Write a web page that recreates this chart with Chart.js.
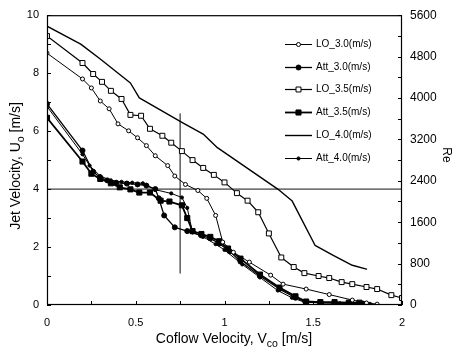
<!DOCTYPE html>
<html><head><meta charset="utf-8">
<script src="https://cdn.jsdelivr.net/npm/chart.js@4.4.1/dist/chart.umd.min.js"></script>
<style>html,body{margin:0;padding:0;background:#fff}canvas{display:block}</style>
</head><body>
<canvas id="c" width="452" height="349"></canvas>
<script>
// ---- data ----
const lo30X = [0, 0.20, 0.25, 0.30, 0.35, 0.40, 0.46, 0.51, 0.56, 0.61, 0.68, 0.72, 0.78, 0.85, 0.90, 0.95, 0.99, 1.05, 1.14, 1.26, 1.33, 1.46, 1.59, 1.72, 1.80, 1.86];
const lo30Y = [8.69, 7.80, 7.49, 7.04, 6.77, 6.25, 6.01, 5.77, 5.50, 5.15, 4.81, 4.45, 4.16, 3.95, 3.68, 3.09, 2.17, 1.82, 1.48, 1.03, 0.72, 0.55, 0.36, 0.17, 0.07, 0.03];

const att30X = [0, 0.20, 0.26, 0.30, 0.34, 0.39, 0.45, 0.51, 0.56, 0.61, 0.63, 0.66, 0.72, 0.79, 0.87, 0.92, 0.97, 1.03, 1.09, 1.20, 1.31, 1.40, 1.46, 1.54, 1.62, 1.70, 1.78];
const att30Y = [6.94, 5.33, 4.60, 4.40, 4.30, 4.22, 4.19, 4.16, 4.12, 4.00, 3.68, 3.09, 2.68, 2.55, 2.40, 2.30, 2.12, 1.85, 1.50, 1.00, 0.55, 0.25, 0.10, 0.08, 0.07, 0.06, 0.05];

const lo35X = [0, 0.20, 0.26, 0.31, 0.36, 0.42, 0.47, 0.53, 0.58, 0.65, 0.70, 0.76, 0.82, 0.88, 0.94, 1.00, 1.07, 1.13, 1.19, 1.25, 1.32, 1.39, 1.45, 1.53, 1.59, 1.66, 1.72, 1.80, 1.86, 1.94, 2.00];
const lo35Y = [9.28, 8.35, 7.97, 7.70, 7.39, 7.11, 6.56, 6.53, 6.08, 5.84, 5.60, 5.31, 5.00, 4.73, 4.49, 4.23, 3.86, 3.60, 3.20, 2.47, 1.64, 1.31, 1.10, 1.00, 0.93, 0.79, 0.72, 0.62, 0.55, 0.34, 0.24];

const att35X = [0, 0.20, 0.25, 0.30, 0.36, 0.41, 0.47, 0.52, 0.58, 0.64, 0.69, 0.76, 0.79, 0.82, 0.87, 0.92, 0.97, 1.02, 1.09, 1.20, 1.31, 1.40, 1.46, 1.54, 1.62, 1.70, 1.76];
const att35Y = [6.46, 4.95, 4.53, 4.35, 4.20, 4.06, 3.99, 3.88, 3.88, 3.60, 3.57, 3.44, 3.00, 2.55, 2.45, 2.35, 2.20, 1.95, 1.60, 1.05, 0.60, 0.30, 0.12, 0.10, 0.10, 0.08, 0.08];

const lo40X = [0, 0.19, 0.30, 0.47, 0.52, 0.76, 0.88, 0.96, 1.30, 1.38, 1.51, 1.61, 1.72, 1.80];
const lo40Y = [9.62, 9.00, 8.49, 7.66, 7.15, 6.30, 5.90, 5.43, 4.00, 3.60, 2.06, 1.72, 1.37, 1.24];

const att40X = [0, 0.20, 0.24, 0.30, 0.36, 0.42, 0.48, 0.54, 0.61, 0.70, 0.76, 0.79, 0.82, 0.88, 0.95, 1.00, 1.10, 1.20, 1.30, 1.38, 1.45, 1.55, 1.65, 1.75, 1.82];
const att40Y = [6.85, 5.20, 4.81, 4.45, 4.30, 4.25, 4.22, 4.20, 3.98, 3.85, 3.71, 3.35, 2.50, 2.35, 2.10, 1.90, 1.40, 0.95, 0.50, 0.25, 0.10, 0.07, 0.06, 0.05, 0.04];

const refLineX = [0, 2];      // horizontal reference line at U = 4
const refLineY = [4, 4];
const cursorX = [0.75, 0.75]; // vertical marker line
const cursorY = [1.1, 6.6];

const seriesLabels = ['LO_3.0(m/s)', 'Att_3.0(m/s)', 'LO_3.5(m/s)', 'Att_3.5(m/s)', 'LO_4.0(m/s)', 'Att_4.0(m/s)'];
const xTickLabels = ['0', '0.5', '1', '1.5', '2'];

function pts(xs, ys) { return xs.map((x, i) => ({ x: x, y: ys[i] })); }

const FONT = '"Liberation Sans", Arial, sans-serif';

const styles = [
  { pointStyle: 'circle', pointRadius: 2, pointBackgroundColor: '#fff', pointBorderWidth: 1, borderWidth: 1 },
  { pointStyle: 'circle', pointRadius: 2.5, pointBackgroundColor: '#000', pointBorderWidth: 1, borderWidth: 1.3 },
  { pointStyle: 'rect', pointRadius: 3.5, pointBackgroundColor: '#fff', pointBorderWidth: 1, borderWidth: 1.2 },
  { pointStyle: 'rect', pointRadius: 3.6, pointBackgroundColor: '#000', pointBorderWidth: 1, borderWidth: 1.8 },
  { pointStyle: 'circle', pointRadius: 0, pointBackgroundColor: '#000', pointBorderWidth: 0, borderWidth: 1.4 },
  { pointStyle: 'circle', pointRadius: 1.6, pointBackgroundColor: '#000', pointBorderWidth: 1, borderWidth: 1 }
];
const seriesData = [pts(lo30X, lo30Y), pts(att30X, att30Y), pts(lo35X, lo35Y), pts(att35X, att35Y), pts(lo40X, lo40Y), pts(att40X, att40Y)];

const datasets = seriesData.map((d, i) => Object.assign({
  label: seriesLabels[i], data: d, borderColor: '#000', pointBorderColor: '#000',
  showLine: true, fill: false, tension: 0, yAxisID: 'y', legendRow: i
}, styles[i]));

datasets.push({ label: 'ref', data: pts(refLineX, refLineY), borderColor: '#111', borderWidth: 1, pointRadius: 0, showLine: true, yAxisID: 'y' });
datasets.push({ label: 'cursor', data: pts(cursorX, cursorY), borderColor: '#333', borderWidth: 1.2, pointRadius: 0, showLine: true, yAxisID: 'y' });

function drawRich(ctx, parts, size) {
  let w = 0;
  parts.forEach(p => { ctx.font = (p.sub ? size * 0.75 : size) + 'px ' + FONT; p.w = ctx.measureText(p.t).width; w += p.w; });
  let x = -w / 2;
  parts.forEach(p => {
    ctx.font = (p.sub ? size * 0.75 : size) + 'px ' + FONT;
    ctx.fillText(p.t, x, p.sub ? size * 0.3 : 0);
    x += p.w;
  });
}

const decor = {
  id: 'decor',
  afterDraw(chart) {
    const ctx = chart.ctx, a = chart.chartArea;
    const sx = chart.scales.x, sy = chart.scales.y, sy2 = chart.scales.y2;
    ctx.save();
    ctx.strokeStyle = '#000'; ctx.fillStyle = '#000';
    ctx.lineWidth = 1.2;
    ctx.strokeRect(a.left + 0.5, a.top + 0.5, a.right - a.left - 1, a.bottom - a.top - 1);
    ctx.lineWidth = 1;
    ctx.beginPath();
    sx.ticks.forEach(t => { const p = Math.round(sx.getPixelForValue(t.value)) + 0.5; ctx.moveTo(p, a.bottom); ctx.lineTo(p, a.bottom - 4); });
    sy.ticks.forEach(t => { const p = Math.round(sy.getPixelForValue(t.value)) + 0.5; ctx.moveTo(a.left, p); ctx.lineTo(a.left + 4, p); });
    sy2.ticks.forEach(t => { const p = Math.round(sy2.getPixelForValue(t.value)) + 0.5; ctx.moveTo(a.right, p); ctx.lineTo(a.right - 4, p); });
    ctx.stroke();
    ctx.textBaseline = 'alphabetic'; ctx.textAlign = 'left';
    ctx.save(); ctx.translate(234, 343);
    drawRich(ctx, [{ t: 'Coflow Velocity, V' }, { t: 'co', sub: true }, { t: ' [m/s]' }], 14);
    ctx.restore();
    ctx.save(); ctx.translate(20, 166); ctx.rotate(-Math.PI / 2);
    drawRich(ctx, [{ t: 'Jet Velocity, U' }, { t: 'o', sub: true }, { t: ' [m/s]' }], 14);
    ctx.restore();
    ctx.save(); ctx.translate(443, 155); ctx.rotate(Math.PI / 2);
    drawRich(ctx, [{ t: 'Re' }], 12);
    ctx.restore();
    chart.data.datasets.forEach(ds => {
      if (ds.legendRow === undefined) return;
      const y = Math.round(44 + ds.legendRow * 22.7) + 0.5;
      ctx.strokeStyle = '#000'; ctx.lineWidth = ds.borderWidth;
      ctx.beginPath(); ctx.moveTo(285, y); ctx.lineTo(312, y); ctx.stroke();
      if (ds.pointRadius > 0) {
        ctx.fillStyle = ds.pointBackgroundColor; ctx.lineWidth = ds.pointBorderWidth;
        Chart.helpers.drawPoint(ctx, { pointStyle: ds.pointStyle, radius: ds.pointRadius, rotation: 0, borderWidth: ds.pointBorderWidth }, 298.5, y);
      }
      ctx.fillStyle = '#000'; ctx.font = '10px ' + FONT; ctx.textBaseline = 'middle'; ctx.textAlign = 'left';
      ctx.fillText(ds.label, 316, y);
    });
    ctx.restore();
  }
};

new Chart(document.getElementById('c'), {
  type: 'scatter',
  data: { datasets: datasets },
  plugins: [decor],
  options: {
    responsive: false, animation: false, devicePixelRatio: 1,
    layout: { padding: { top: 14, left: 0, right: 0, bottom: 0 } },
    plugins: { legend: { display: false }, tooltip: { enabled: false } },
    elements: { line: { borderCapStyle: 'round', borderJoinStyle: 'round' } },
    scales: {
      x: {
        type: 'linear', min: 0, max: 2,
        afterFit(s) { s.height = 44; },
        border: { display: false },
        grid: { display: false, drawTicks: false },
        ticks: {
          stepSize: 0.25, padding: 11, color: '#000', maxRotation: 0, autoSkip: false,
          font: { family: FONT, size: 11 },
          callback(v) { const k = Math.round(v * 4); return k % 2 === 0 ? xTickLabels[k / 2] : ''; }
        }
      },
      y: {
        type: 'linear', position: 'left', min: 0, max: 10,
        afterFit(s) { s.width = 47; },
        border: { display: false },
        grid: { display: false, drawTicks: false },
        ticks: {
          stepSize: 1, padding: 8, color: '#000', autoSkip: false,
          font: { family: FONT, size: 11 },
          callback(v) { return v % 2 === 0 ? String(v) : ''; }
        }
      },
      y2: {
        type: 'linear', position: 'right', min: 0, max: 5600,
        afterFit(s) { s.width = 50; },
        border: { display: false },
        grid: { display: false, drawTicks: false },
        ticks: {
          stepSize: 400, padding: 8, color: '#000', autoSkip: false,
          font: { family: FONT, size: 12 },
          callback(v) { return v % 800 === 0 ? String(v) : ''; }
        }
      }
    }
  }
});
</script>
</body></html>
